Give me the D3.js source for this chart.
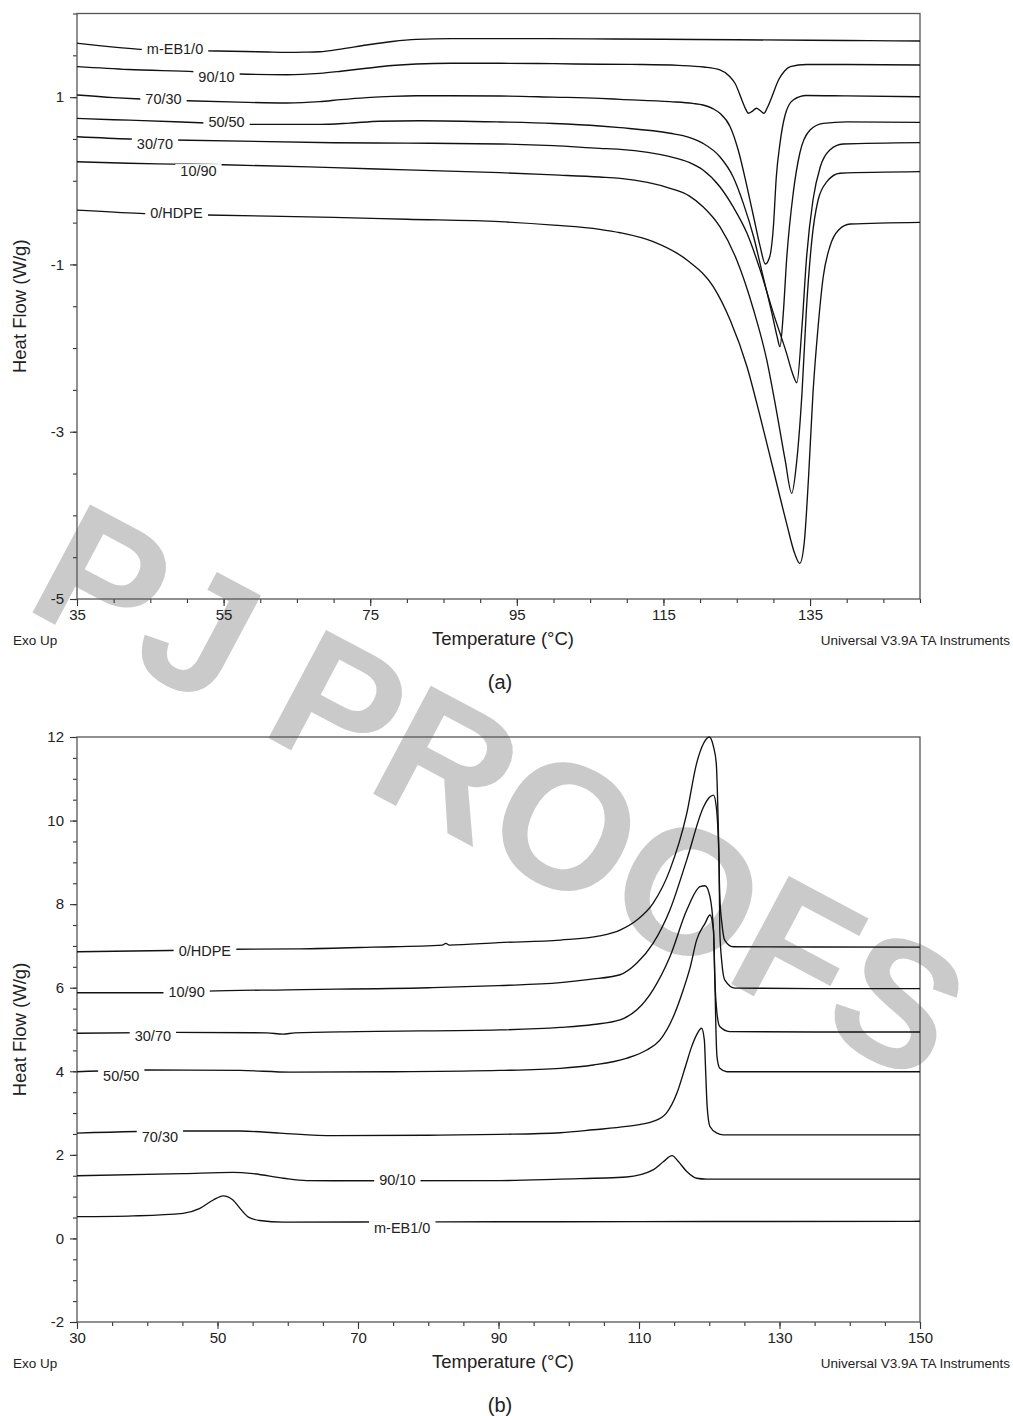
<!DOCTYPE html>
<html><head><meta charset="utf-8">
<script src="https://cdn.jsdelivr.net/npm/d3@7"></script>
<style>
body{margin:0;background:#fff;}
svg{display:block;font-family:"Liberation Sans",Arial,Helvetica,sans-serif;}
</style></head><body>
<svg id="chart" width="1013" height="1416"></svg>
<script>
// ---------- Panel (a): heating scans, Temperature (°C) vs Heat Flow (W/g) ----------
const seriesNames = ["m-EB1/0","90/10","70/30","50/50","30/70","10/90","0/HDPE"];

const a_mEB = [[35,1.645],[38,1.615],[43.6,1.572],[49,1.558],[54,1.552],[58,1.546],[61,1.54],[63.6,1.536],[66,1.538],[68.1,1.543],[71,1.575],[74.5,1.623],[78,1.665],[81.3,1.69],[86,1.70],[95,1.70],[105,1.696],[115,1.692],[125,1.686],[135,1.68],[143,1.675],[150,1.671]];
const a_9010 = [[35,1.364],[42,1.33],[51.1,1.304],[57.2,1.277],[63.6,1.268],[68.1,1.285],[71,1.31],[74.5,1.345],[78,1.378],[81.3,1.396],[86,1.405],[92.7,1.405],[100,1.40],[106.3,1.393],[112,1.39],[117,1.38],[120.5,1.36],[122.7,1.325],[124,1.25],[124.8,1.16],[125.7,0.966],[126.2,0.86],[126.6,0.807],[127.1,0.83],[127.7,0.867],[128.2,0.84],[128.7,0.807],[129.2,0.88],[129.8,1.005],[130.7,1.205],[131.5,1.31],[132.3,1.364],[134.5,1.39],[140,1.39],[150,1.384]];
const a_7030 = [[35,1.026],[40,0.995],[43.6,0.978],[50,0.957],[57,0.94],[63.6,0.93],[68.1,0.946],[71,0.97],[74.5,0.994],[78,1.01],[81.3,1.017],[92.7,1.014],[100,1.0],[106.3,0.986],[109.1,0.974],[115.9,0.946],[119,0.925],[120.4,0.906],[121.8,0.86],[122.7,0.807],[124.1,0.647],[125.2,0.368],[126.4,-0.071],[127.3,-0.43],[128.2,-0.788],[128.9,-0.995],[129.5,-0.908],[130.0,-0.549],[130.4,0.049],[130.9,0.448],[131.6,0.786],[132.7,0.966],[134.5,1.02],[140,1.015],[150,1.005]];
const a_5050 = [[35,0.747],[40,0.73],[44,0.72],[51.8,0.694],[58.6,0.675],[63.6,0.675],[68.1,0.675],[72.2,0.69],[76.3,0.712],[81.8,0.718],[92.7,0.703],[100,0.685],[106.3,0.655],[109.1,0.635],[115.9,0.568],[118.5,0.52],[120.4,0.448],[122.7,0.288],[124.5,0.049],[125.9,-0.27],[127.3,-0.669],[128.6,-1.147],[129.8,-1.585],[130.5,-1.86],[130.9,-1.984],[131.35,-1.585],[131.8,-0.947],[132.7,-0.15],[133.6,0.329],[135.0,0.607],[136.8,0.687],[140,0.705],[150,0.699]];
const a_3070 = [[35,0.527],[42.2,0.50],[48.1,0.488],[70,0.455],[80,0.45],[92.7,0.44],[100,0.42],[106.3,0.388],[109.1,0.376],[115.9,0.288],[118.5,0.22],[120.4,0.129],[122.7,-0.071],[124.5,-0.31],[126.4,-0.628],[128.2,-1.067],[130.0,-1.585],[131.8,-2.063],[132.6,-2.3],[133.2,-2.414],[133.9,-1.745],[134.5,-0.947],[135.4,-0.23],[136.4,0.168],[137.7,0.368],[139.5,0.44],[150,0.456]];
const a_1090 = [[35,0.228],[42,0.21],[48.1,0.2],[54.9,0.192],[70,0.157],[80,0.13],[92.7,0.097],[100,0.07],[106.3,0.045],[109.1,0.029],[115.9,-0.09],[118.5,-0.18],[120.4,-0.31],[122.7,-0.549],[125.0,-0.947],[127.3,-1.545],[129.1,-2.143],[130.4,-2.741],[131.6,-3.338],[132.5,-3.737],[133.2,-3.338],[133.9,-2.541],[134.5,-1.545],[135.2,-0.748],[136.1,-0.23],[137.3,-0.011],[139.1,0.09],[150,0.109]];
const a_HDPE = [[35,-0.35],[43.6,-0.389],[52.7,-0.409],[70,-0.437],[80,-0.46],[92.7,-0.489],[100,-0.53],[106.3,-0.58],[109.1,-0.621],[113.6,-0.728],[118.2,-0.947],[121.8,-1.266],[124.1,-1.665],[126.4,-2.223],[128.2,-2.821],[130.0,-3.458],[131.8,-4.095],[132.9,-4.454],[133.6,-4.574],[134.2,-4.334],[134.8,-3.538],[135.4,-2.541],[136.1,-1.745],[136.8,-1.147],[137.7,-0.788],[138.9,-0.588],[140.5,-0.517],[150,-0.497]];

const aXMajor = [35,55,75,95,115,135];
const aYMajor = [-5,-3,-1,1];

// ---------- Panel (b): cooling scans ----------
const b_HDPE = [[30,6.86],[43.2,6.89],[52.3,6.92],[61.7,6.93],[72,6.97],[82,7.02],[82.5,7.06],[83,7.02],[90,7.08],[98.8,7.14],[104.4,7.24],[107.3,7.38],[109.7,7.62],[112.0,8.02],[114.4,8.82],[116.8,10.17],[118.2,11.37],[119.2,11.85],[120.0,12.0],[120.6,11.77],[121.0,11.37],[121.3,9.78],[121.5,8.18],[121.8,7.54],[122.2,7.14],[123.4,6.98],[135,6.975],[150,6.97]];
const b_1090 = [[30,5.88],[42.3,5.88],[48.5,5.92],[60,5.95],[80,6.0],[90,6.05],[98.8,6.12],[103,6.2],[107.3,6.31],[109.7,6.59],[112.0,7.06],[114.4,7.86],[116.8,9.06],[119.2,10.33],[120.0,10.55],[120.6,10.61],[121.0,10.33],[121.4,8.98],[121.5,7.38],[121.8,6.59],[122.2,6.19],[123.7,5.99],[135,5.98],[150,5.98]];
const b_3070 = [[30,4.91],[43.7,4.93],[57,4.92],[59.3,4.89],[61,4.92],[70,4.95],[90.2,4.99],[98.8,5.05],[103.5,5.12],[107.3,5.23],[109.7,5.47],[112.0,5.95],[114.4,6.74],[116.8,7.86],[118.7,8.42],[119.4,8.44],[120.1,8.18],[120.6,7.38],[120.8,6.19],[121.1,5.39],[121.5,5.07],[122.9,4.95],[135,4.94],[150,4.94]];
const b_5050 = [[30,3.99],[39.9,4.03],[53.2,4.02],[60.3,3.98],[75,3.99],[90.2,4.02],[98.8,4.07],[103.5,4.15],[108.2,4.31],[111.1,4.51],[113.0,4.75],[114.9,5.31],[116.3,5.95],[117.3,6.5],[118.2,7.14],[119.4,7.54],[120.1,7.74],[120.6,7.38],[120.8,6.2],[120.95,5.0],[121.1,4.35],[121.5,4.07],[122.5,3.99],[150,3.99]];
const b_7030 = [[30,2.52],[44.7,2.57],[53.2,2.57],[58.9,2.52],[66.5,2.46],[80,2.47],[90.2,2.49],[98.8,2.53],[103.5,2.60],[108.2,2.68],[112.0,2.80],[113.9,3.0],[115.4,3.48],[116.6,4.11],[117.5,4.59],[118.2,4.87],[118.9,5.03],[119.3,4.75],[119.5,3.95],[119.7,3.16],[120.1,2.68],[121.1,2.52],[122.0,2.48],[150,2.48]];
const b_9010 = [[30,1.50],[45.1,1.55],[52.2,1.58],[55.1,1.55],[59.4,1.44],[62.7,1.385],[66.5,1.38],[90.2,1.385],[98.8,1.42],[108.2,1.47],[112.0,1.64],[113.5,1.84],[114.7,1.98],[115.6,1.84],[116.8,1.60],[118.2,1.44],[119.6,1.42],[150,1.42]];
const b_mEB = [[30,0.52],[38.0,0.54],[45.1,0.60],[47.5,0.72],[49.4,0.92],[50.8,1.02],[52.2,0.92],[53.2,0.72],[54.4,0.51],[56.0,0.43],[59.4,0.39],[75,0.395],[90.2,0.40],[98.8,0.40],[120,0.405],[150,0.41]];

const bXMajor = [30,50,70,90,110,130,150];
const bYMajor = [-2,0,2,4,6,8,10,12];

// label anchors (data coordinates) — placement only
const aLabelAt = [[48.37,1.572],[54.03,1.237],[46.8,0.978],[55.4,0.706],[45.64,0.44],[51.57,0.117],[48.57,-0.389]];
const bLabelAt = [[76.3,0.25],[75.6,1.40],[41.8,2.44],[36.3,3.89],[40.8,4.85],[45.6,5.89],[48.2,6.89]];

// ---------- drawing ----------
const svg = d3.select("#chart");
svg.append("rect").attr("width",1013).attr("height",1416).attr("fill","#fff");

// watermark (behind everything)
svg.append("text")
  .attr("transform","translate(22,607) rotate(28)")
  .attr("font-size",178).attr("font-weight","bold")
  .attr("fill","#cacaca")
  .text("PJ PROOFS");

const FRAME = "#555", INK = "#111", TXT = "#222";
const fmt = d => String(d);

function panel(o){
  const x = d3.scaleLinear().domain(o.xd).range([77,920]);
  const y = d3.scaleLinear().domain(o.yd).range([o.bottom,o.top]);
  const g = svg.append("g");

  // minor ticks
  const xm = d3.range(o.xd[0], o.xd[1]+0.001, 5);
  const ym = d3.range(o.yd[0], o.yd[1]+0.001, 0.5);
  g.append("g").attr("transform",`translate(0,${o.bottom})`)
    .call(d3.axisBottom(x).tickValues(xm).tickSize(4).tickSizeOuter(0).tickFormat(""))
    .call(s=>s.select(".domain").remove());
  g.append("g").attr("transform",`translate(77,0)`)
    .call(d3.axisLeft(y).tickValues(ym).tickSize(4).tickSizeOuter(0).tickFormat(""))
    .call(s=>s.select(".domain").remove());
  // major ticks
  const ax = g.append("g").attr("transform",`translate(0,${o.bottom})`)
    .call(d3.axisBottom(x).tickValues(o.xMajor).tickSize(7).tickSizeOuter(0).tickPadding(3).tickFormat(fmt))
    .call(s=>s.select(".domain").remove());
  ax.selectAll("text").attr("font-size",15).attr("font-family","Liberation Sans, Arial, sans-serif").attr("fill",TXT);
  const ay = g.append("g").attr("transform",`translate(77,0)`)
    .call(d3.axisLeft(y).tickValues(o.yMajor).tickSize(7).tickSizeOuter(0).tickPadding(6).tickFormat(fmt))
    .call(s=>s.select(".domain").remove());
  ay.selectAll("text").attr("font-size",15).attr("font-family","Liberation Sans, Arial, sans-serif").attr("fill",TXT);
  g.selectAll(".tick line").attr("stroke","#333").attr("stroke-width",1.1);

  // frame
  g.append("rect").attr("x",77).attr("y",o.top).attr("width",843).attr("height",o.bottom-o.top)
    .attr("fill","none").attr("stroke",FRAME).attr("stroke-width",1.3);

  // curves
  const line = d3.line().x(d=>x(d[0])).y(d=>y(d[1])).curve(d3.curveMonotoneX);
  g.append("g").selectAll("path").data(o.series).join("path")
    .attr("d",line).attr("fill","none").attr("stroke",INK).attr("stroke-width",1.35)
    .attr("stroke-linejoin","round");

  // labels with gaps
  const lg = g.append("g");
  o.names.forEach((n,i)=>{
    const p = o.labelAt[i];
    const bg = lg.append("rect").attr("fill","#fff");
    const t = lg.append("text").attr("x",x(p[0])).attr("y",y(p[1])).attr("dy","0.35em")
      .attr("text-anchor","middle").attr("font-size",14.5).attr("fill",TXT).text(n);
    const b = t.node().getBBox();
    bg.attr("x",b.x-5).attr("y",b.y+1).attr("width",b.width+10).attr("height",b.height-2);
  });

  // axis titles & footer
  svg.append("text").attr("x",503).attr("y",o.bottom+46).attr("text-anchor","middle")
    .attr("font-size",18.5).attr("fill",TXT).text("Temperature (°C)");
  svg.append("text").attr("transform",`translate(26,${(o.top+o.bottom)/2}) rotate(-90)`)
    .attr("text-anchor","middle").attr("font-size",18.5).attr("fill",TXT).text("Heat Flow (W/g)");
  svg.append("text").attr("x",13).attr("y",o.bottom+46).attr("font-size",13.5).attr("fill",TXT).text("Exo Up");
  svg.append("text").attr("x",1010).attr("y",o.bottom+46).attr("text-anchor","end")
    .attr("font-size",13.5).attr("fill",TXT).text("Universal V3.9A TA Instruments");
  svg.append("text").attr("x",500).attr("y",o.bottom+90).attr("text-anchor","middle")
    .attr("font-size",20).attr("fill",TXT).text(o.tag);
}

panel({xd:[35,150], yd:[-5,2], top:13.5, bottom:599, xMajor:aXMajor, yMajor:aYMajor,
  series:[a_mEB,a_9010,a_7030,a_5050,a_3070,a_1090,a_HDPE], names:seriesNames, labelAt:aLabelAt, tag:"(a)"});
panel({xd:[30,150], yd:[-2,12], top:737, bottom:1322, xMajor:bXMajor, yMajor:bYMajor,
  series:[b_mEB,b_9010,b_7030,b_5050,b_3070,b_1090,b_HDPE], names:seriesNames, labelAt:bLabelAt, tag:"(b)"});
</script>
</body></html>
